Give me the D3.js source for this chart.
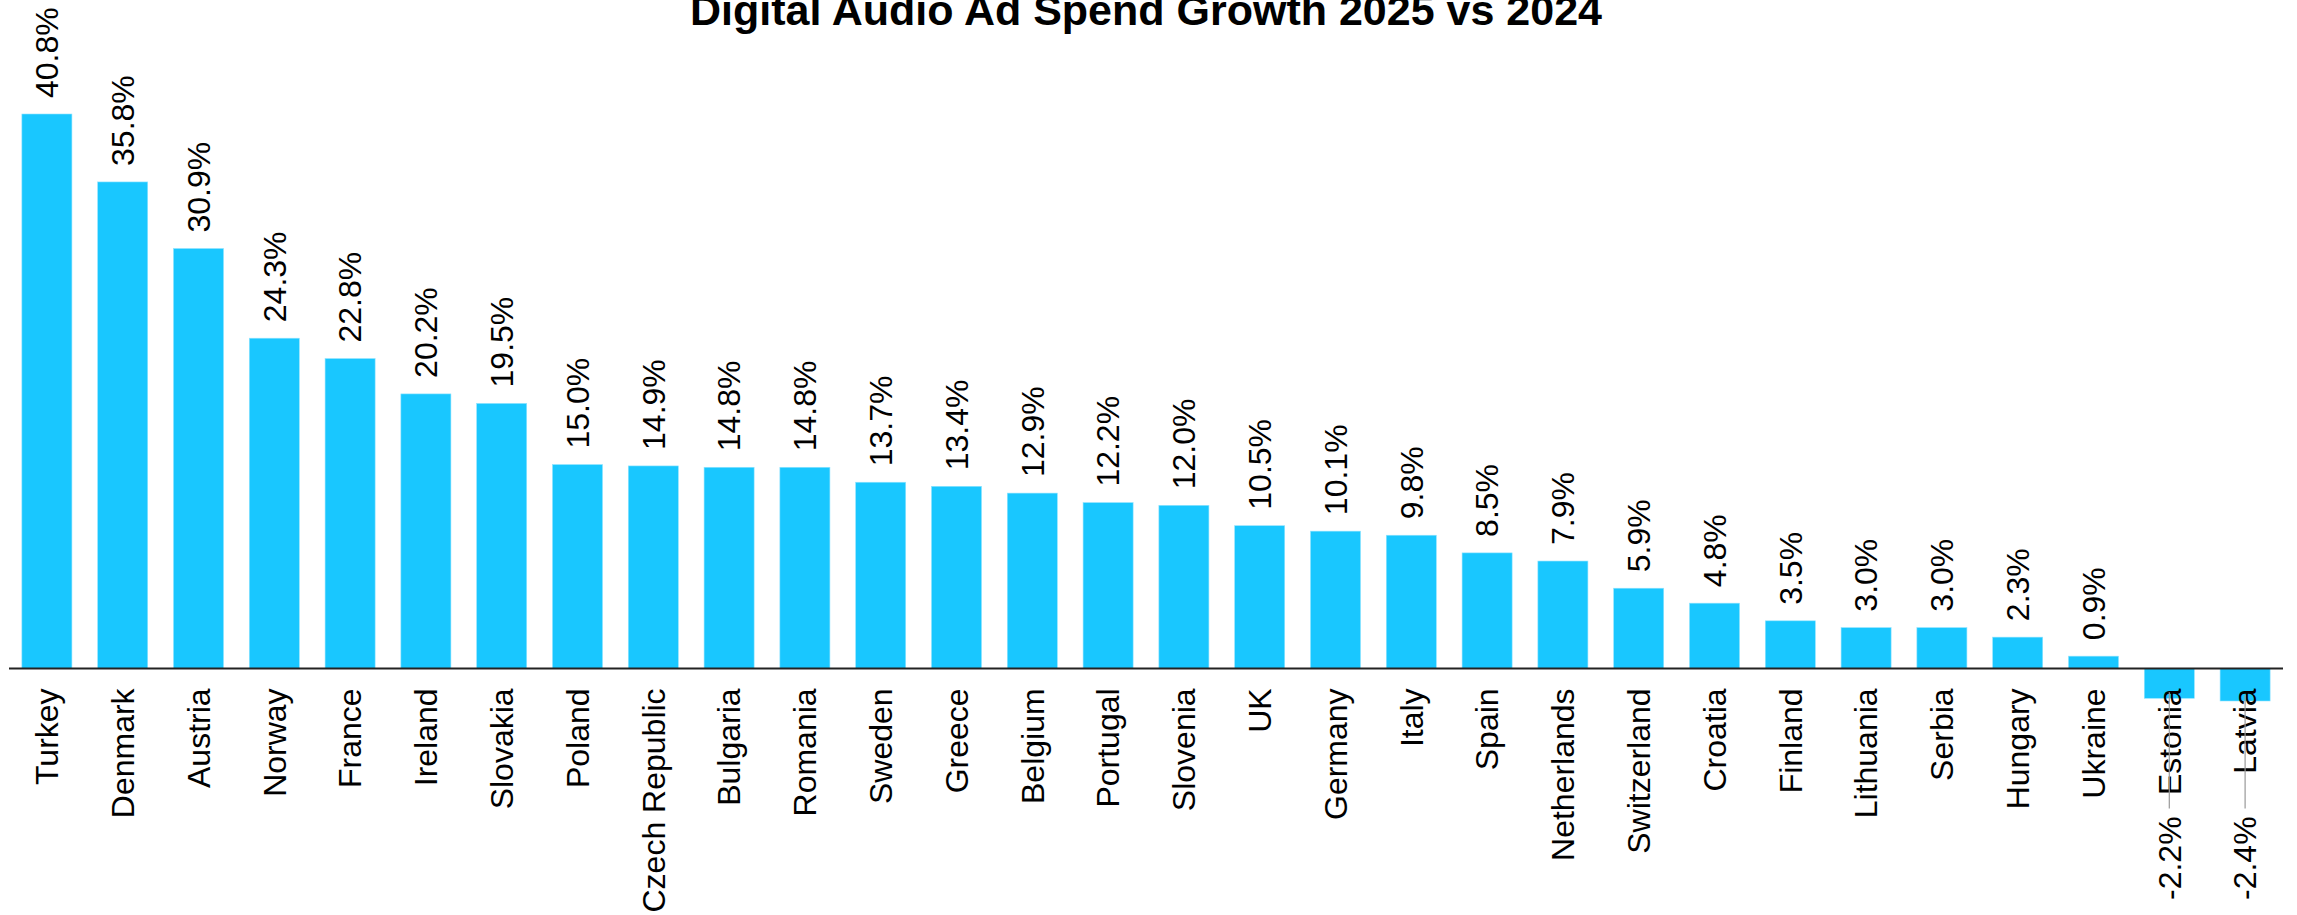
<!DOCTYPE html>
<html>
<head>
<meta charset="utf-8">
<script src="https://cdn.jsdelivr.net/npm/d3@7"></script>
<style>
  html, body { margin: 0; padding: 0; background: #fff; }
  svg { display: block; }
  text { font-family: "Liberation Sans", Arial, sans-serif; fill: #000; }
</style>
</head>
<body>
<script>
const titleText = "Digital Audio Ad Spend Growth 2025 vs 2024";
const countries = ["Turkey", "Denmark", "Austria", "Norway", "France", "Ireland", "Slovakia",
  "Poland", "Czech Republic", "Bulgaria", "Romania", "Sweden", "Greece", "Belgium", "Portugal",
  "Slovenia", "UK", "Germany", "Italy", "Spain", "Netherlands", "Switzerland", "Croatia",
  "Finland", "Lithuania", "Serbia", "Hungary", "Ukraine", "Estonia", "Latvia"];
const growth = [40.8, 35.8, 30.9, 24.3, 22.8, 20.2, 19.5, 15.0, 14.9, 14.8, 14.8, 13.7, 13.4,
  12.9, 12.2, 12.0, 10.5, 10.1, 9.8, 8.5, 7.9, 5.9, 4.8, 3.5, 3.0, 3.0, 2.3, 0.9, -2.2, -2.4];

const W = 2297, H = 915;
const barColor = "#19c7ff";
const fontSize = 32;

const svg = d3.select("body").append("svg").attr("width", W).attr("height", H);

const x = d3.scaleBand().domain(countries).range([9, 2283])
  .paddingInner(0.34).paddingOuter(0.17);
const y = d3.scaleLinear().domain([-2.4, 40.8]).range([701, 114]);
const y0 = y(0);

const data = countries.map((c, i) => ({ country: c, value: growth[i] }));

// bars
svg.append("g").selectAll("rect").data(data).join("rect")
  .attr("x", d => x(d.country))
  .attr("width", x.bandwidth())
  .attr("y", d => Math.min(y(d.value), y0))
  .attr("height", d => Math.abs(y(d.value) - y0))
  .attr("fill", barColor)
  .attr("stroke", "#8fe3ff")
  .attr("stroke-width", 0.6);

// category axis
const xAxis = d3.axisBottom(x).tickSize(0).tickPadding(0);
const gx = svg.append("g").attr("transform", `translate(0,${y0})`).call(xAxis);
gx.select(".domain").attr("stroke", "#222").attr("stroke-width", 2)
  .attr("d", `M9,0H2283`);
gx.selectAll(".tick text")
  .attr("font-size", fontSize)
  .attr("font-family", "Liberation Sans, Arial, sans-serif")
  .attr("fill", "#000")
  .attr("text-anchor", "end")
  .attr("transform", "translate(0,20) rotate(-90)")
  .attr("x", 0).attr("y", 0).attr("dy", "0.35em");

// value labels
const fmt = v => v.toFixed(1) + "%";
const pos = data.filter(d => d.value >= 0);
const neg = data.filter(d => d.value < 0);
const cx = d => x(d.country) + x.bandwidth() / 2;

svg.append("g").selectAll("text").data(pos).join("text")
  .attr("transform", d => `translate(${cx(d)},${y(d.value) - 16}) rotate(-90)`)
  .attr("text-anchor", "start")
  .attr("dy", "0.35em")
  .attr("font-size", fontSize)
  .text(d => fmt(d.value));

// negative labels sit below the category names with a leader line
const negLabelTop = y0 + 148;
svg.append("g").selectAll("line").data(neg).join("line")
  .attr("x1", d => cx(d)).attr("x2", d => cx(d))
  .attr("y1", d => y(d.value) - 6)
  .attr("y2", negLabelTop - 8)
  .attr("stroke", "#999").attr("stroke-width", 1.2);
svg.append("g").selectAll("text").data(neg).join("text")
  .attr("transform", d => `translate(${cx(d)},${negLabelTop}) rotate(-90)`)
  .attr("text-anchor", "end")
  .attr("dy", "0.35em")
  .attr("font-size", fontSize)
  .text(d => fmt(d.value));

// title
svg.append("text")
  .attr("x", 1146).attr("y", 25)
  .attr("text-anchor", "middle")
  .attr("font-size", 43)
  .attr("font-weight", "bold")
  .text(titleText);
</script>
</body>
</html>
